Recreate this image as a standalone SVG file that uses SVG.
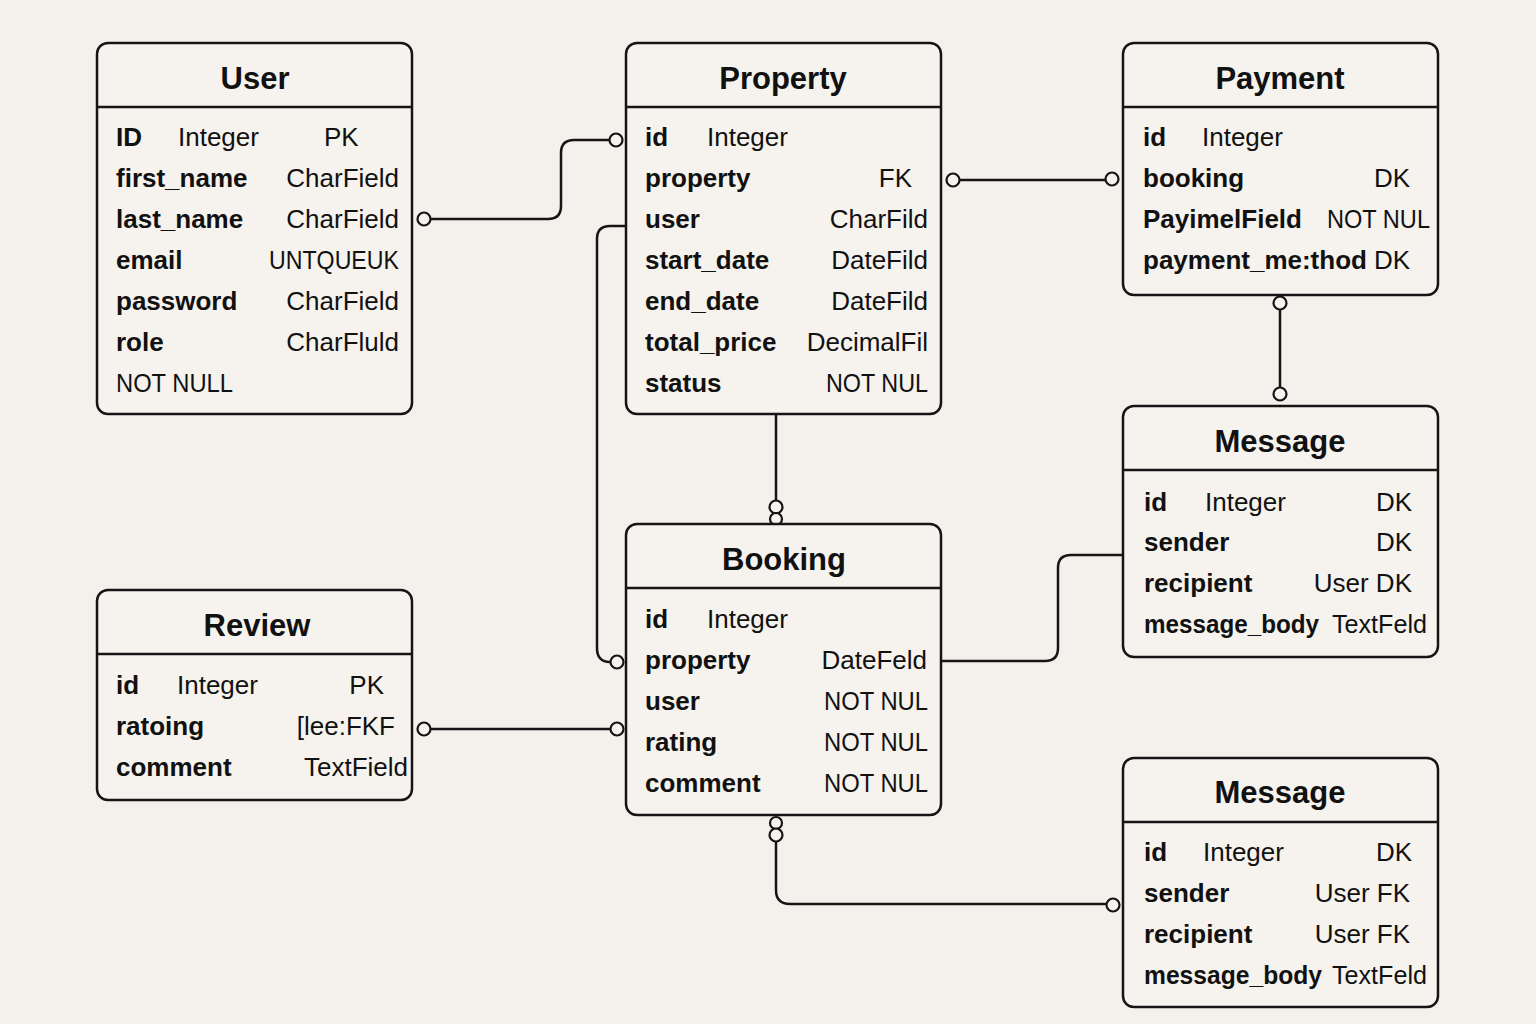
<svg xmlns="http://www.w3.org/2000/svg" width="1536" height="1024" viewBox="0 0 1536 1024">
<style>
.bg{fill:#f4f1ec}
.box{fill:#f6f3ee;stroke:#151515;stroke-width:2.5}
.hdr{stroke:#151515;stroke-width:2.5}
.title{font-family:"Liberation Sans",Arial,sans-serif;font-weight:bold;font-size:31px;fill:#111;text-anchor:middle}
.k{font-family:"Liberation Sans",Arial,sans-serif;font-weight:bold;font-size:26px;fill:#111}
.v{font-family:"Liberation Sans",Arial,sans-serif;font-size:26px;fill:#111}
.e{text-anchor:end}
.ln{fill:none;stroke:#151515;stroke-width:2.5}
.c{fill:#f6f3ee;stroke:#151515;stroke-width:2.2}
</style>
<rect class="bg" x="0" y="0" width="1536" height="1024"/>

<g id="connectors">
  <path class="ln" d="M430 219 H548 Q561 219 561 206 V153 Q561 140 574 140 H610"/>
  <circle class="c" cx="424" cy="219" r="6.5"/>
  <circle class="c" cx="616" cy="140" r="6.5"/>

  <path class="ln" d="M959 180 H1106"/>
  <circle class="c" cx="953" cy="180" r="6.5"/>
  <circle class="c" cx="1112" cy="179" r="6.5"/>

  <path class="ln" d="M626 226 H610 Q597 226 597 239 V648 Q597 662 610 662"/>
  <circle class="c" cx="617" cy="662" r="6.5"/>

  <path class="ln" d="M776 414 V500"/>
  <circle class="c" cx="776" cy="507" r="6.5"/>
  <circle class="c" cx="776" cy="519" r="6"/>

  <path class="ln" d="M1280 309 V388"/>
  <circle class="c" cx="1280" cy="303" r="6.5"/>
  <circle class="c" cx="1280" cy="394" r="6.5"/>

  <path class="ln" d="M941 661 H1045 Q1058 661 1058 648 V568 Q1058 555 1071 555 H1123"/>

  <path class="ln" d="M430 729 H611"/>
  <circle class="c" cx="424" cy="729" r="6.5"/>
  <circle class="c" cx="617" cy="729" r="6.5"/>

  <path class="ln" d="M776 841 V890 Q776 904 790 904 H1107"/>
  <circle class="c" cx="776" cy="823" r="6"/>
  <circle class="c" cx="776" cy="835" r="6.5"/>
  <circle class="c" cx="1113" cy="905" r="6.5"/>
</g>

<g id="user">
  <rect class="box" x="97" y="43" width="315" height="371" rx="11"/>
  <line class="hdr" x1="97" y1="107" x2="412" y2="107"/>
  <text class="title" x="255" y="89">User</text>
  <text class="k" x="116" y="146">ID</text><text class="v" x="178" y="146">Integer</text><text class="v" x="324" y="146">PK</text>
  <text class="k" x="116" y="187">first_name</text><text class="v e" x="399" y="187">CharField</text>
  <text class="k" x="116" y="228">last_name</text><text class="v e" x="399" y="228">CharField</text>
  <text class="k" x="116" y="269">email</text><text class="v e" x="399" y="269" textLength="130" lengthAdjust="spacingAndGlyphs">UNTQUEUK</text>
  <text class="k" x="116" y="310">password</text><text class="v e" x="399" y="310">CharField</text>
  <text class="k" x="116" y="351">role</text><text class="v e" x="399" y="351">CharFluld</text>
  <text class="v" x="116" y="392" textLength="117" lengthAdjust="spacingAndGlyphs">NOT NULL</text>
</g>

<g id="property">
  <rect class="box" x="626" y="43" width="315" height="371" rx="11"/>
  <line class="hdr" x1="626" y1="107" x2="941" y2="107"/>
  <text class="title" x="783" y="89">Property</text>
  <text class="k" x="645" y="146">id</text><text class="v" x="707" y="146">Integer</text>
  <text class="k" x="645" y="187">property</text><text class="v e" x="912" y="187">FK</text>
  <text class="k" x="645" y="228">user</text><text class="v e" x="928" y="228">CharFild</text>
  <text class="k" x="645" y="269">start_date</text><text class="v e" x="928" y="269">DateFild</text>
  <text class="k" x="645" y="310">end_date</text><text class="v e" x="928" y="310">DateFild</text>
  <text class="k" x="645" y="351">total_price</text><text class="v e" x="928" y="351">DecimalFil</text>
  <text class="k" x="645" y="392">status</text><text class="v e" x="928" y="392" textLength="102" lengthAdjust="spacingAndGlyphs">NOT NUL</text>
</g>

<g id="payment">
  <rect class="box" x="1123" y="43" width="315" height="252" rx="11"/>
  <line class="hdr" x1="1123" y1="107" x2="1438" y2="107"/>
  <text class="title" x="1280" y="89">Payment</text>
  <text class="k" x="1143" y="146">id</text><text class="v" x="1202" y="146">Integer</text>
  <text class="k" x="1143" y="187">booking</text><text class="v e" x="1410" y="187">DK</text>
  <text class="k" x="1143" y="228">PayimelField</text><text class="v e" x="1430" y="228" textLength="103" lengthAdjust="spacingAndGlyphs">NOT NUL</text>
  <text class="k" x="1143" y="269">payment_me:thod</text><text class="v e" x="1410" y="269">DK</text>
</g>

<g id="message1">
  <rect class="box" x="1123" y="406" width="315" height="251" rx="11"/>
  <line class="hdr" x1="1123" y1="470" x2="1438" y2="470"/>
  <text class="title" x="1280" y="452">Message</text>
  <text class="k" x="1144" y="511">id</text><text class="v" x="1205" y="511">Integer</text><text class="v e" x="1412" y="511">DK</text>
  <text class="k" x="1144" y="551">sender</text><text class="v e" x="1412" y="551">DK</text>
  <text class="k" x="1144" y="592">recipient</text><text class="v e" x="1412" y="592">User DK</text>
  <text class="k" x="1144" y="633" textLength="175" lengthAdjust="spacingAndGlyphs">message_body</text><text class="v e" x="1427" y="633" textLength="95" lengthAdjust="spacingAndGlyphs">TextFeld</text>
</g>

<g id="booking">
  <rect class="box" x="626" y="524" width="315" height="291" rx="11"/>
  <line class="hdr" x1="626" y1="588" x2="941" y2="588"/>
  <text class="title" x="784" y="570">Booking</text>
  <text class="k" x="645" y="628">id</text><text class="v" x="707" y="628">Integer</text>
  <text class="k" x="645" y="669">property</text><text class="v e" x="927" y="669">DateFeld</text>
  <text class="k" x="645" y="710">user</text><text class="v e" x="928" y="710" textLength="104" lengthAdjust="spacingAndGlyphs">NOT NUL</text>
  <text class="k" x="645" y="751">rating</text><text class="v e" x="928" y="751" textLength="104" lengthAdjust="spacingAndGlyphs">NOT NUL</text>
  <text class="k" x="645" y="792">comment</text><text class="v e" x="928" y="792" textLength="104" lengthAdjust="spacingAndGlyphs">NOT NUL</text>
</g>

<g id="review">
  <rect class="box" x="97" y="590" width="315" height="210" rx="11"/>
  <line class="hdr" x1="97" y1="654" x2="412" y2="654"/>
  <text class="title" x="257" y="636">Review</text>
  <text class="k" x="116" y="694">id</text><text class="v" x="177" y="694">Integer</text><text class="v e" x="384" y="694">PK</text>
  <text class="k" x="116" y="735">ratoing</text><text class="v e" x="395" y="735">[lee:FKF</text>
  <text class="k" x="116" y="776">comment</text><text class="v e" x="408" y="776">TextField</text>
</g>

<g id="message2">
  <rect class="box" x="1123" y="758" width="315" height="249" rx="11"/>
  <line class="hdr" x1="1123" y1="822" x2="1438" y2="822"/>
  <text class="title" x="1280" y="803">Message</text>
  <text class="k" x="1144" y="861">id</text><text class="v" x="1203" y="861">Integer</text><text class="v e" x="1412" y="861">DK</text>
  <text class="k" x="1144" y="902">sender</text><text class="v e" x="1410" y="902">User FK</text>
  <text class="k" x="1144" y="943">recipient</text><text class="v e" x="1410" y="943">User FK</text>
  <text class="k" x="1144" y="984" textLength="178" lengthAdjust="spacingAndGlyphs">message_body</text><text class="v e" x="1427" y="984" textLength="95" lengthAdjust="spacingAndGlyphs">TextFeld</text>
</g>
</svg>
